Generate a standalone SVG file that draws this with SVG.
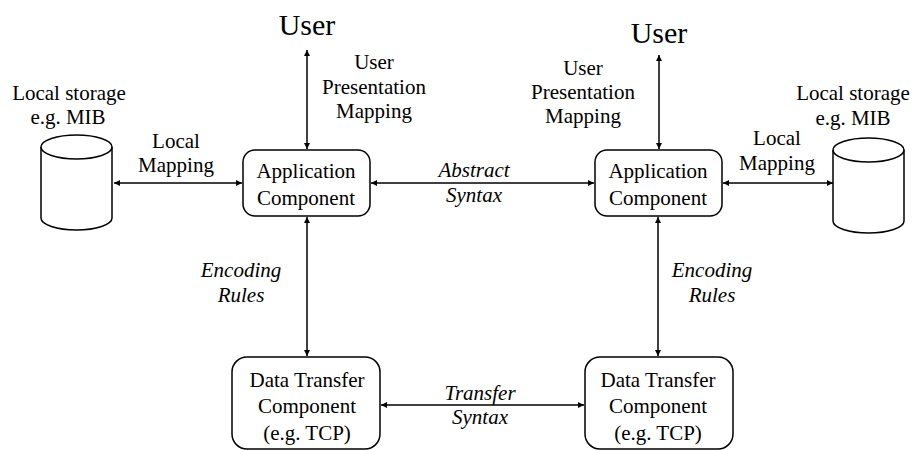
<svg xmlns="http://www.w3.org/2000/svg" width="913" height="450" viewBox="0 0 913 450" style="font-family:'Liberation Serif',Tinos,'Times New Roman',serif">
<style>
.t{font-size:21px;text-anchor:middle;fill:#000}
.big{font-size:30px}
.it{font-style:italic}
.box{fill:none;stroke:#000;stroke-width:1.5}
.cyl{fill:#fff;stroke:#000;stroke-width:1.5}
.edge{stroke:#000;stroke-width:1.5;fill:none;marker-start:url(#ah);marker-end:url(#ah)}
</style>
<defs>
<marker id="ah" viewBox="0 0 10 10" refX="10" refY="5" markerWidth="6" markerHeight="6" orient="auto-start-reverse" markerUnits="userSpaceOnUse">
<path d="M0,0 L10,5 L0,10 z" fill="#000"/>
</marker>
</defs>
<rect width="913" height="450" fill="#fff"/>
<g id="connectors">
<line class="edge" x1="307" y1="50" x2="307" y2="149"/>
<line class="edge" x1="659" y1="55" x2="659" y2="149"/>
<line class="edge" x1="114" y1="183" x2="242" y2="183"/>
<line class="edge" x1="371" y1="183" x2="594" y2="183"/>
<line class="edge" x1="723" y1="183" x2="833" y2="183"/>
<line class="edge" x1="307" y1="217" x2="307" y2="356"/>
<line class="edge" x1="658" y1="217" x2="658" y2="356"/>
<line class="edge" x1="381" y1="405" x2="584" y2="405"/>
</g>
<g id="labels" style="font-family:'Liberation Serif',serif">
<text x="307" y="35" class="t big">User</text>
<text x="659" y="43" class="t big">User</text>
<text x="374" y="69" class="t">User</text>
<text x="374" y="94" class="t">Presentation</text>
<text x="374" y="118" class="t">Mapping</text>
<text x="583" y="75" class="t">User</text>
<text x="583" y="99" class="t">Presentation</text>
<text x="583" y="123" class="t">Mapping</text>
<text x="176" y="148" class="t">Local</text>
<text x="176" y="172" class="t">Mapping</text>
<text x="777" y="145" class="t">Local</text>
<text x="777" y="170" class="t">Mapping</text>
<text x="474" y="177" class="t it">Abstract</text>
<text x="474" y="202" class="t it">Syntax</text>
<text x="241" y="277" class="t it">Encoding</text>
<text x="241" y="302" class="t it">Rules</text>
<text x="712" y="277" class="t it">Encoding</text>
<text x="712" y="302" class="t it">Rules</text>
<text x="480" y="400" class="t it">Transfer</text>
<text x="480" y="424" class="t it">Syntax</text>
</g>
<g id="storage-left" style="font-family:'Liberation Serif',serif">
<text x="69" y="100" class="t">Local storage</text>
<text x="68" y="124" class="t">e.g. MIB</text>
<path class="cyl" d="M41,147 L41,218 A35.5,12 0 0 0 112,218 L112,147"/>
<ellipse class="cyl" cx="76.5" cy="147" rx="35.5" ry="12"/>
</g>
<g id="storage-right" style="font-family:'Liberation Serif',serif">
<text x="853" y="100" class="t">Local storage</text>
<text x="853" y="125" class="t">e.g. MIB</text>
<path class="cyl" d="M833,150 L833,221 A35.5,12 0 0 0 904,221 L904,150"/>
<ellipse class="cyl" cx="868.5" cy="150" rx="35.5" ry="12"/>
</g>
<g id="app-left" style="font-family:'Liberation Serif',serif">
<rect class="box" x="243" y="150" width="127" height="66" rx="12"/>
<text x="306" y="178" class="t">Application</text>
<text x="306" y="205" class="t">Component</text>
</g>
<g id="app-right" style="font-family:'Liberation Serif',serif">
<rect class="box" x="595" y="150" width="127" height="66" rx="12"/>
<text x="658" y="178" class="t">Application</text>
<text x="658" y="205" class="t">Component</text>
</g>
<g id="dt-left" style="font-family:'Liberation Serif',serif">
<rect class="box" x="232" y="357" width="148" height="92" rx="15"/>
<text x="307" y="387" class="t">Data Transfer</text>
<text x="307" y="413" class="t">Component</text>
<text x="307" y="440" class="t">(e.g. TCP)</text>
</g>
<g id="dt-right" style="font-family:'Liberation Serif',serif">
<rect class="box" x="585" y="357" width="148" height="92" rx="15"/>
<text x="658" y="387" class="t">Data Transfer</text>
<text x="658" y="413" class="t">Component</text>
<text x="658" y="440" class="t">(e.g. TCP)</text>
</g>
</svg>
